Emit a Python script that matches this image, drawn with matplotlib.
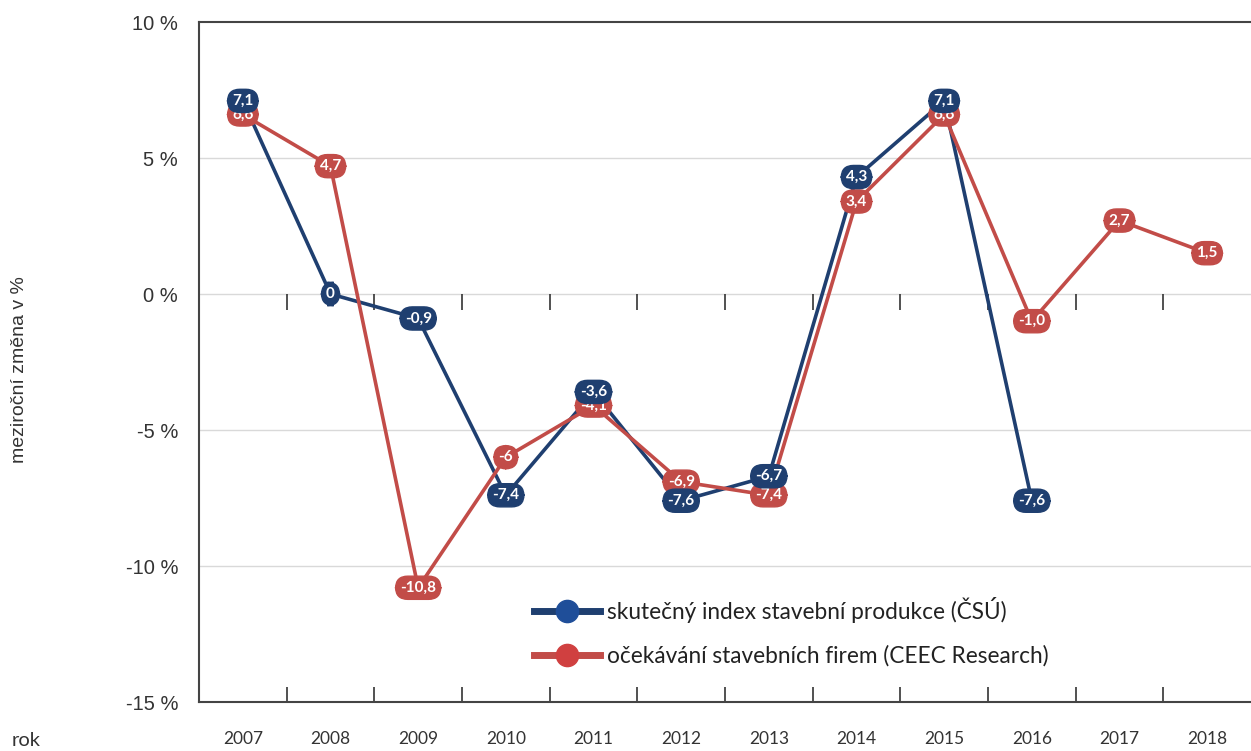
import numpy as np
import matplotlib
matplotlib.use('Agg')
import matplotlib.pyplot as plt
from matplotlib.lines import Line2D

# data
years = ['2007', '2008', '2009', '2010', '2011', '2012', '2013', '2014', '2015', '2016', '2017', '2018']
csu = [7.1, 0, -0.9, -7.4, -3.6, -7.6, -6.7, 4.3, 7.1, -7.6]
csu_labels = ['7,1', '0', '-0,9', '-7,4', '-3,6', '-7,6', '-6,7', '4,3', '7,1', '-7,6']
ceec = [6.6, 4.7, -10.8, -6, -4.1, -6.9, -7.4, 3.4, 6.6, -1.0, 2.7, 1.5]
ceec_labels = ['6,6', '4,7', '-10,8', '-6', '-4,1', '-6,9', '-7,4', '3,4', '6,6', '-1,0', '2,7', '1,5']
yticks = [10, 5, 0, -5, -10, -15]
ytick_labels = ['10 %', '5 %', '0 %', '-5 %', '-10 %', '-15 %']
names = ['skutečný index stavební produkce (ČSÚ)', 'očekávání stavebních firem (CEEC Research)']

blue = '#1f3f70'
red = '#c24c48'

fig = plt.figure(figsize=(12.51, 7.51), dpi=100)
ax = fig.add_axes([199 / 1251, 49 / 751, 1052 / 1251, 680 / 751])

x_csu = np.arange(len(csu))
x_ceec = np.arange(len(ceec))

ax.plot(x_csu, csu, color=blue, lw=2.6, zorder=3)
ax.plot(x_ceec, ceec, color=red, lw=2.6, zorder=3)

# value labels
box = 'round,pad=0.3,rounding_size=0.8'
for xi, yi, t in zip(x_ceec, ceec, ceec_labels):
    ax.text(xi, yi, t, ha='center', va='center', color='white', fontsize=11,
            fontweight='bold', family='Lato', zorder=4,
            bbox=dict(boxstyle=box, fc=red, ec=red))
for xi, yi, t in zip(x_csu, csu, csu_labels):
    ax.text(xi, yi, t, ha='center', va='center', color='white', fontsize=11,
            fontweight='bold', family='Lato', zorder=5,
            bbox=dict(boxstyle=box, fc=blue, ec=blue))

ax.set_xlim(-0.5, len(years) - 0.5)
ax.set_ylim(-15, 10)

ax.set_yticks(yticks)
ax.set_yticklabels(ytick_labels, family='Liberation Sans', fontsize=14.5, color='#333333')
ax.tick_params(axis='y', length=0, pad=15)

ax.set_xticks(np.arange(len(years)))
ax.set_xticklabels(years, family='Lato', fontsize=12.5, color='#333333')
ax.set_xticks(np.arange(len(years) - 1) + 0.5, minor=True)
ax.tick_params(axis='x', which='major', length=0, pad=21)
ax.tick_params(axis='x', which='minor', direction='in', length=11, width=1.2, color='#333333')

# ticks on the zero line
bounds = np.arange(len(years) - 1) + 0.5
ax.vlines(bounds, -0.6, 0, color='#333333', lw=1.2, zorder=2)

for y in [5, 0, -5, -10]:
    ax.axhline(y, color='#d9d9d9', lw=1, zorder=1)

for s in ['left', 'top', 'bottom']:
    ax.spines[s].set_color('#444444')
    ax.spines[s].set_linewidth(1.5)
ax.spines['right'].set_visible(False)

fig.text(20 / 1251, 1 - 370 / 751, 'meziroční změna v %', rotation=90, ha='center', va='center',
         family='Liberation Sans', fontsize=14, color='#333333')
fig.text(12 / 1251, 1 - 740 / 751, 'rok', ha='left', va='center', family='Lato',
         fontsize=14.5, color='#333333')

handles = [Line2D([], [], color=blue, lw=5, marker='o', ms=16, mfc='#1f4e99', mec='#1f4e99'),
           Line2D([], [], color=red, lw=5, marker='o', ms=16, mfc='#d04040', mec='#d04040')]
leg = ax.legend(handles, names, loc='upper left', bbox_to_anchor=(0.31, 0.168), frameon=False,
                handlelength=2.9, handletextpad=0.3, labelspacing=1.0, numpoints=1,
                borderaxespad=0, prop={'family': 'Lato', 'size': 16.3})
for t in leg.get_texts():
    t.set_color('#222222')

fig.savefig('out.png', dpi=100)
